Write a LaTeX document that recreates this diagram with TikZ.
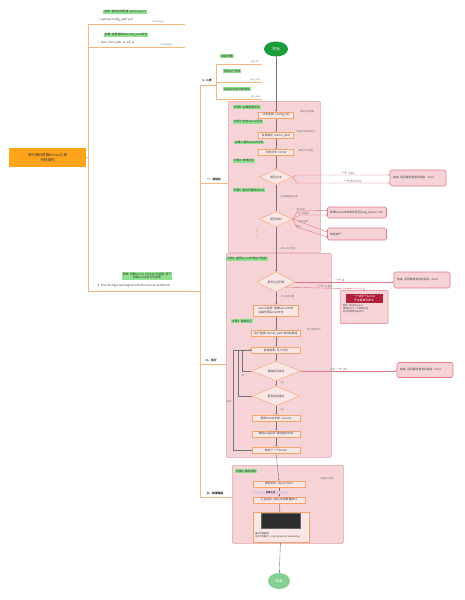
\documentclass[tikz,border=0pt]{standalone}
\usepackage{fontspec}
\newfontfamily\cjk{Noto Sans CJK SC}
\usetikzlibrary{shapes.geometric,arrows.meta}
\pgfdeclarelayer{bg}
\pgfdeclarelayer{paper}
\pgfsetlayers{paper,bg,main}
\newcommand\fsz{\fontsize{2.8}{3.3}\selectfont}
\newcommand\fszs{\fontsize{2.3}{2.8}\selectfont}
\newcommand\fszl{\fontsize{3.6}{4.4}\selectfont}
\definecolor{lgreen}{HTML}{8EE28E}
\definecolor{porange}{HTML}{F2A46A}
\definecolor{pfill}{HTML}{FBE6E6}
\definecolor{ppink}{HTML}{F5D3D7}
\definecolor{pborder}{HTML}{E3A3AB}
\definecolor{rborder}{HTML}{E27888}
\definecolor{torange}{HTML}{F7B77C}
\definecolor{rline}{HTML}{E07A86}
\definecolor{darkred}{HTML}{B0203A}
\definecolor{rootor}{HTML}{FFA41B}
\definecolor{startg}{HTML}{1E9B3A}
\definecolor{endg}{HTML}{86CF95}
\tikzset{
  base/.style={font=\cjk\fsz, inner sep=0.5pt},
  glabel/.style={base, fill=lgreen, text=black!80, inner xsep=1pt, inner ysep=0.7pt},
  note/.style={base, font=\cjk\fszs, text=black!55},
  sect/.style={base, font=\cjk\fsz\bfseries, text=black!85},
  proc/.style={base, draw=porange, line width=0.4pt, fill=pfill, minimum height=6pt, text=black!75},
  dec/.style={base, diamond, draw=porange, fill=pfill, line width=0.4pt, inner sep=0pt, text=black!75},
  panel/.style={draw=pborder, fill=ppink, line width=0.5pt, rounded corners=1pt, anchor=north west, inner sep=0pt},
  rbox/.style={base, draw=rborder, fill=ppink, line width=0.6pt, rounded corners=1.5pt, text=black!75, align=left},
  rootbox/.style={base, font=\cjk\fszl, fill=rootor, text=black!80, align=center, minimum width=77pt, minimum height=19pt},
  term/.style={base, ellipse, font=\cjk\fszl, text=white},
  tree/.style={draw=torange, line width=0.5pt},
  flow/.style={draw=black!55, line width=0.35pt, -{Stealth[length=1.6pt,width=1.3pt]}},
  branch/.style={draw=rline, line width=0.4pt, -{Stealth[length=1.6pt,width=1.3pt]}},
}
\begin{document}
\begin{tikzpicture}[x=1pt,y=-1pt]
\begin{pgfonlayer}{paper}
\fill[white] (0,0) rectangle (465,600);
\end{pgfonlayer}
\useasboundingbox (0,0) rectangle (465,600);

% ---------- left tree ----------
\node[rootbox] (root) at (47.5,157.5) {进行递归替换kernel工具\\代码结构};
\coordinate (lt) at (88,24);
\coordinate (lb) at (88,291);
\coordinate (l1e) at (185,24);
\coordinate (l2s) at (88,47);
\coordinate (l2e) at (185,47);
\coordinate (rt) at (200,85);
\coordinate (rb) at (200,497);
\coordinate (rj) at (200,291);

\node[glabel] (g1) at (125,12) {参数: 替换规则配置 replace.yaml};
\node[base, anchor=west, text=black!75] (t1) at (97,20) {○ replace/config\_path.yml};
\node[note, anchor=west] (n1) at (152,21.5) {no change};
\node[glabel] (g2) at (126,35) {参数: 需要替换的kernel\_path目录};
\node[base, anchor=west, text=black!75] (t2) at (97,43) {○ kern\_files\_path: xx, kk, xx};
\node[note, anchor=west] (n2) at (160,44.5) {no change};
\node[glabel, align=center] (g3) at (147,276) {参数: 获取kernel\_list(batch)结果, 用于\\替换kernel执行列表等};
\node[base, anchor=west, text=black!80] (t3) at (97,286) {3. Find all img a running from de the main de (batch mt)};

% ---------- right tree ----------
\node[sect] (s0) at (207,80) {1. 入参};
\node[sect] (s1) at (214,179) {一、初始化};
\node[sect] (s2) at (211,360) {二、执行};
\node[sect] (s3) at (215,493) {三、结果输出};
\coordinate (it) at (216,64);
\coordinate (ib) at (216,99);
\coordinate (im) at (216,85);
\node[glabel] (ga) at (227,56) {读取参数};
\node[glabel] (gb) at (232,71) {获取执行环境};
\node[glabel] (gc) at (237,89) {初始化日志与数据库};
\node[note] (na) at (255,61.5) {cfg\_file};
\node[note] (nb) at (255,79.5) {env\_info};
\node[note] (nc) at (256,96.5) {db\_conn};
\coordinate (iae) at (262,64);
\coordinate (ibs) at (216,82);
\coordinate (ibe) at (262,82);
\coordinate (ice) at (262,99);

% ---------- start ----------
\node[term, fill=startg, minimum width=24pt, minimum height=15pt] (start) at (276,49) {开始};

% ---------- box 1 ----------
\node[glabel] (gl1) at (247,107) {步骤1: 加载配置文件};
\node[proc, minimum width=35pt] (p1) at (276,115) {文件名称: config.yml};
\node[note] (a1) at (307,112) {读取本地配置};
\node[glabel] (gl2) at (248,121.5) {步骤2: 检查kernel目录};
\node[proc, minimum width=35pt] (p2) at (276,135.5) {目录路径: kernel\_path};
\node[note] (a2) at (306,131.5) {检查目录是否存在};
\node[glabel] (gl3) at (249,142.5) {步骤3: 解析kernel列表};
\node[proc, minimum width=35pt] (p3) at (276,152.5) {列表文件: list.txt};
\node[note] (a3) at (306,150.5) {解析文件内容};
\node[glabel] (gl4) at (244,160.5) {步骤4: 参数校验};
\node[dec, minimum width=33pt, minimum height=15pt] (d1) at (276,177) {是否合法};
\node[rbox, minimum width=56pt, minimum height=16pt, text width=50pt] (rb1) at (418,178) {结束, 返回错误信息并退出: error};
\node[glabel] (gl5) at (249,190) {步骤5: 查找可替换kernel};
\node[note, anchor=west] (a5) at (279,197) {+ 查询数据库记录};
\node[dec, minimum width=33pt, minimum height=15pt] (d2) at (276,219) {是否找到};
\node[rbox, minimum width=59pt, minimum height=11pt, text width=54pt] (rb2) at (357,212.5) {如果kernel未找到则返回(msg\_kernel\_list)};
\node[rbox, minimum width=59pt, minimum height=12pt, text width=54pt] (rb3) at (357,234) {继续执行};
\node[note, text=orange!70] (y1) at (257,231) {是};
\node[note, text=orange!70] (y2) at (257,236) {否};
\node[note, anchor=west] (a6) at (279,249) {+ 进入执行阶段};

% ---------- box 2 ----------
\node[glabel] (gm1) at (247,258.5) {步骤6: 遍历kernel列表执行替换};
\node[dec, minimum width=38pt, minimum height=20pt] (d3) at (276,282) {是否为空列表};
\node[rbox, minimum width=56pt, minimum height=16pt, text width=50pt] (rb4) at (422,280) {结束, 返回错误信息并退出: error};
\node[draw=rborder, fill=ppink, line width=0.5pt, rounded corners=1pt, minimum width=48pt, minimum height=33pt, inner sep=0pt] (rdo) at (364,307) {};
\node[base, fill=darkred, text=white, align=center, minimum width=37pt, minimum height=9pt] (rdh) at (364,298.5) {一个或多个kernel\\不在替换列表中};
\node[base, font=\cjk\fszs, text=black!70, align=left, text width=42pt, anchor=north] (rdb) at (364,304) {警告: 跳过该kernel, 继续执行下一个替换任务, 并记录到错误日志中};
\node[note, anchor=west] (a7) at (279,297) {+ 否, 继续处理};
\node[proc, minimum width=45pt, minimum height=11pt, align=left] (p4) at (276,310.5) {kernel名称: 替换kernel文件\\并备份原kernel文件};
\node[glabel] (gm2) at (242,321) {步骤7: 替换执行};
\node[proc, minimum width=49pt] (p5) at (276,333.5) {执行替换: kernel\_path 到目标路径};
\node[note] (a8) at (314,330) {执行替换命令};
\node[proc, minimum width=49pt] (p6) at (276,350) {替换结果: 写入日志};
\node[dec, minimum width=49pt, minimum height=13pt] (d4) at (276,371) {替换是否成功};
\node[rbox, minimum width=56pt, minimum height=15pt, text width=50pt] (rb5) at (425,370) {结束, 返回错误信息并退出: error};
\node[note, anchor=west] (a9) at (279,383) {+ 否};
\node[dec, minimum width=47pt, minimum height=16pt] (d5) at (276,396) {是否校验通过};
\node[note, anchor=west] (a10) at (279,410) {+ 是};
\node[proc, minimum width=48pt] (p7) at (276,418) {更新kernel状态: success};
\node[proc, minimum width=48pt] (p8) at (276,434) {删除tmp目录: 清理临时文件};
\node[proc, minimum width=48pt] (p9) at (276,450) {继续下一个kernel};
\node[note] (lp1) at (243,376) {是};
\node[note] (lp2) at (229,402) {继续};

% ---------- box 3 ----------
\node[glabel] (gr1) at (246,471) {步骤8: 输出结果};
\node[note] (a11) at (327,479) {生成执行报告};
\node[proc, minimum width=52pt] (p10) at (279,484) {报告文件: report.html};
\node[base, fill=violet!22, minimum width=35pt, minimum height=3pt, inner sep=0pt, font=\cjk\fszs, anchor=west] (pb) at (253,492.5) {摘要信息};
\node[proc, minimum width=52pt] (p11) at (279,500) {汇总信息: 成功/失败数量统计};
\node[proc, minimum width=56pt, minimum height=30pt] (p12) at (281,527) {};
\node[fill=black!82, draw=black!60, line width=0.3pt, minimum width=39pt, minimum height=15pt, inner sep=0pt] (scr) at (281,520.5) {};
\node[base, font=\cjk\fszs, text=black!75, align=left, text width=52pt] (p12t) at (281,535.5) {输出示例截图\\日志文件路径: /var/log/kernel\_replace.log};

% ---------- end ----------
\node[term, fill=endg, minimum width=22pt, minimum height=16pt] (end) at (279,581) {结束};

\begin{pgfonlayer}{bg}
\node[panel, minimum width=92pt, minimum height=151pt] (P1) at (228,101) {};
\node[panel, minimum width=105pt, minimum height=204pt] (P2) at (226,253) {};
\node[panel, minimum width=111pt, minimum height=78pt] (P3) at (232,465) {};

% tree lines
\draw[tree] (lt) -- (lb);
\draw[tree] (root.east) -- (root.east -| lt);
\draw[tree] (lt) -- (l1e);
\draw[tree] (l2s) -- (l2e);
\draw[tree] (lb) -- (rj);
\draw[tree] (rt) -- (rb);
\draw[tree] (rt) -- (im);
\draw[tree] (it) -- (ib);
\draw[tree] (it) -- (iae);
\draw[tree] (ibs) -- (ibe);
\draw[tree] (ib) -- (ice);
\draw[tree] (rt |- 0,183) coordinate (s1b) -- (P1.west |- s1b);
\draw[tree] (rt |- 0,364) coordinate (s2b) -- (P2.west |- s2b);
\draw[tree] (rt |- 0,497) coordinate (s3b) -- (P3.west |- s3b);

% main flow
\draw[flow] (start) -- (p1);
\draw[flow] (p1) -- (p2);
\draw[flow] (p2) -- (p3);
\draw[flow] (p3) -- (d1);
\draw[flow] (d1) -- (d2);
\draw[flow] (d2) -- (d3);
\draw[flow] (d3) -- (p4);
\draw[flow] (p4) -- (p5);
\draw[flow] (p5) -- (p6);
\draw[flow] (p6) -- (d4);
\draw[flow] (d4) -- (d5);
\draw[flow] (d5) -- (p7);
\draw[flow] (p7) -- (p8);
\draw[flow] (p8) -- (p9);
\draw[flow] (p9.south) -- (p10.north);
\draw[flow] (p10) -- (p11);
\draw[flow] (p11) -- (p12);
\draw[flow] (p12) -- (end);

% branches
\draw[branch] (d1.east) -- ++(4,-2) -- (rb1.west |- 0,175) node[pos=0.55, above=-0.5pt, note] {$\rightarrow$ 不合法};
\draw[branch] (d1.east) -- ++(4,6) -- (rb1.west |- 0,183) node[pos=0.6, above=-0.5pt, note] {$\rightarrow$ 路径不存在};
\draw[branch] (d2.east) -- ++(5,-8) -- (rb2.west |- 0,210.5) node[pos=0.1, above=-0.5pt, note] {是: 找到};
\draw[branch] (d2.east) -- ++(8,-4) -- (rb2.west |- 0,215) node[pos=0.1, above=-0.5pt, note] {否: 未找到};
\draw[branch] (d2.east) -- ++(8,3) -- (rb3.west |- 0,232) node[pos=0.1, above=-0.5pt, note] {部分找到};
\draw[branch] (d2.east) -- ++(4,8) -- (rb3.west |- 0,237) node[pos=0.05, above=-0.5pt, note] {全部};
\draw[branch] (d3.east) -- (rb4.west |- d3.east) node[pos=0.45, above=-0.5pt, note] {$\rightarrow$ 是};
\draw[branch] (d3.south east) -- (rdo.north |- 0,289) node[pos=0.5, above=-0.5pt, note] {$\rightarrow$ 否: 警告} -- (rdo.north);
\draw[branch] (d4.east) -- (rb5.west |- d4.east) node[pos=0.4, above=-0.5pt, note] {失败 $\rightarrow$ 退出};
\draw[flow] (d4.west) -- ++(-9,0) |- (p6.west);
\draw[flow] (d5.west) -- ++(-14.5,0) |- (p6.west);
\draw[flow] (p9.west) -- ++(-19,0) |- (p6.west);
\end{pgfonlayer}
\end{tikzpicture}
\end{document}
